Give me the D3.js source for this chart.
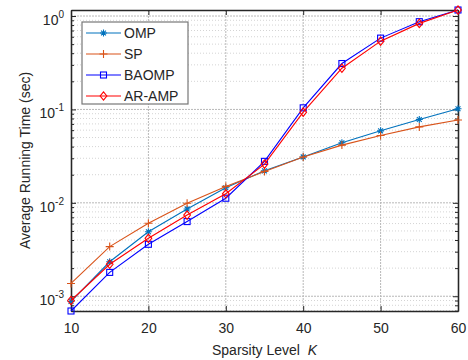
<!DOCTYPE html>
<html>
<head>
<meta charset="utf-8">
<script src="https://cdn.jsdelivr.net/npm/d3@7"></script>
<style>
  body { margin: 0; background: #fff; }
  svg { display: block; font-family: "Liberation Sans", Arial, sans-serif; }
</style>
</head>
<body>
<svg id="drawing_region"></svg>
<script>
// values
const sparsity = [10, 15, 20, 25, 30, 35, 40, 45, 50, 55, 60];
const omp   = [8.8e-4, 2.34e-3, 4.9e-3, 8.6e-3, 1.45e-2, 2.2e-2, 3.1e-2, 4.4e-2, 5.9e-2, 7.8e-2, 0.1016];
const sp    = [1.37e-3, 3.4e-3, 6.05e-3, 9.9e-3, 1.5e-2, 2.17e-2, 3.1e-2, 4.15e-2, 5.25e-2, 6.5e-2, 7.7e-2];
const baomp = [6.95e-4, 1.8e-3, 3.6e-3, 6.3e-3, 1.12e-2, 2.78e-2, 0.104, 0.31, 0.58, 0.87, 1.16];
const aramp = [9.0e-4, 2.2e-3, 4.17e-3, 7.4e-3, 1.25e-2, 2.6e-2, 0.0935, 0.276, 0.538, 0.834, 1.16];
const seriesNames = ['OMP', 'SP', 'BAOMP', 'AR-AMP'];
const xTicks = [10, 20, 30, 40, 50, 60];
const yTickExps = [-3, -2, -1, 0];

const series = [
  {name: seriesNames[0], values: omp,   color: '#0072BD', marker: 'asterisk'},
  {name: seriesNames[1], values: sp,    color: '#D95319', marker: 'plus'},
  {name: seriesNames[2], values: baomp, color: '#0000FF', marker: 'square'},
  {name: seriesNames[3], values: aramp, color: '#FF0000', marker: 'diamond'}
];

const width = 468, height = 360;
const margin = {top: 10, right: 10, bottom: 49, left: 71};
const innerW = width - margin.left - margin.right;
const innerH = height - margin.top - margin.bottom;

const svg = d3.select('#drawing_region').attr('width', width).attr('height', height);
const chart = svg.append('g').attr('transform', `translate(${margin.left},${margin.top})`);

const allVals = series.flatMap(s => s.values);
const xscale = d3.scaleLinear().domain(d3.extent(sparsity)).range([0, innerW]);
const yscale = d3.scaleLog().domain([d3.min(allVals), d3.max(allVals)]).range([innerH, 0]);

// minor and major grid
const minorVals = [];
for (let e = -4; e <= 0; e++) for (let m = 2; m <= 9; m++) {
  const v = m * Math.pow(10, e);
  if (v >= yscale.domain()[0] && v <= yscale.domain()[1]) minorVals.push(v);
}
const grid = chart.append('g');
grid.selectAll('.ymin').data(minorVals).enter().append('line')
  .attr('x1', 0).attr('x2', innerW)
  .attr('y1', d => yscale(d)).attr('y2', d => yscale(d))
  .attr('stroke', '#d4d4d4').attr('stroke-width', 1).attr('stroke-dasharray', '1,2');
grid.selectAll('.ymaj').data(yTickExps.map(e => Math.pow(10, e))).enter().append('line')
  .attr('x1', 0).attr('x2', innerW)
  .attr('y1', d => yscale(d)).attr('y2', d => yscale(d))
  .attr('stroke', '#b8b8b8').attr('stroke-width', 1).attr('stroke-dasharray', '2,1');
grid.selectAll('.xmaj').data(xTicks.slice(1, -1)).enter().append('line')
  .attr('y1', 0).attr('y2', innerH)
  .attr('x1', d => xscale(d)).attr('x2', d => xscale(d))
  .attr('stroke', '#b8b8b8').attr('stroke-width', 1).attr('stroke-dasharray', '2,1');

// axes (box with inward ticks)
const axisColor = '#262626';
const xaxis = d3.axisBottom(xscale).tickValues(xTicks).tickSize(-5).tickSizeOuter(0).tickPadding(12);
const xg = chart.append('g').attr('transform', `translate(0,${innerH})`).call(xaxis);
xg.selectAll('text').attr('font-size', 14).attr('fill', axisColor).attr('font-family', '"Liberation Sans", Arial, sans-serif');
const xtop = d3.axisTop(xscale).tickValues(xTicks).tickSize(-5).tickSizeOuter(0).tickFormat('');
chart.append('g').call(xtop);

const yaxis = d3.axisLeft(yscale).tickValues(yTickExps.map(e => Math.pow(10, e))).tickSize(-5).tickSizeOuter(0).tickFormat('');
chart.append('g').call(yaxis);
const yright = d3.axisRight(yscale).tickValues(yTickExps.map(e => Math.pow(10, e))).tickSize(-5).tickSizeOuter(0).tickFormat('');
chart.append('g').attr('transform', `translate(${innerW},0)`).call(yright);
// minor ticks
chart.append('g').call(d3.axisLeft(yscale).tickValues(minorVals).tickSize(-3).tickSizeOuter(0).tickFormat(''));
chart.append('g').attr('transform', `translate(${innerW},0)`)
  .call(d3.axisRight(yscale).tickValues(minorVals).tickSize(-3).tickSizeOuter(0).tickFormat(''));
chart.selectAll('.domain, .tick line').attr('stroke', axisColor);
chart.selectAll('.domain').attr('stroke-width', 1.3);

// y tick labels 10^n
const ylab = chart.append('g');
yTickExps.forEach(e => {
  const t = ylab.append('text')
    .attr('x', -7).attr('y', yscale(Math.pow(10, e)) + 9)
    .attr('text-anchor', 'end').attr('font-size', 14).attr('fill', axisColor);
  t.append('tspan').text('10');
  t.append('tspan').attr('dy', -7).attr('font-size', 10).text(e);
});

// axis titles
const xt = svg.append('text')
  .attr('x', margin.left + innerW / 2).attr('y', 355)
  .attr('text-anchor', 'middle').attr('font-size', 14).attr('fill', axisColor);
xt.append('tspan').text('Sparsity Level\u00a0\u00a0');
xt.append('tspan').attr('font-style', 'italic').text('K');
svg.append('text')
  .attr('transform', `translate(30,${margin.top + innerH / 2}) rotate(-90)`)
  .attr('text-anchor', 'middle').attr('font-size', 14).attr('fill', axisColor)
  .text('Average Running Time (sec)');

// markers
function drawMarker(g, type, color, x, y) {
  if (type === 'asterisk') {
    const r = 3.5;
    g.append('path').attr('d', `M${x - r},${y}H${x + r}M${x},${y - r}V${y + r}M${x - r * .7},${y - r * .7}L${x + r * .7},${y + r * .7}M${x - r * .7},${y + r * .7}L${x + r * .7},${y - r * .7}`)
      .attr('stroke', color).attr('stroke-width', 1.1).attr('fill', 'none');
  } else if (type === 'plus') {
    const r = 4;
    g.append('path').attr('d', `M${x - r},${y}H${x + r}M${x},${y - r}V${y + r}`)
      .attr('stroke', color).attr('stroke-width', 1.1).attr('fill', 'none');
  } else if (type === 'square') {
    g.append('rect').attr('x', x - 3).attr('y', y - 3).attr('width', 6).attr('height', 6)
      .attr('stroke', color).attr('stroke-width', 1.1).attr('fill', 'none');
  } else if (type === 'diamond') {
    const r = 4.2;
    g.append('path').attr('d', `M${x},${y - r}L${x + r * .8},${y}L${x},${y + r}L${x - r * .8},${y}Z`)
      .attr('stroke', color).attr('stroke-width', 1.1).attr('fill', 'none');
  }
}

const line = d3.line().x(d => xscale(d[0])).y(d => yscale(d[1]));
series.forEach(s => {
  const pts = sparsity.map((k, i) => [k, s.values[i]]);
  chart.append('path').datum(pts).attr('d', line)
    .attr('fill', 'none').attr('stroke', s.color).attr('stroke-width', 1.1);
  const mg = chart.append('g');
  pts.forEach(p => drawMarker(mg, s.marker, s.color, xscale(p[0]), yscale(p[1])));
});

// legend
const legend = svg.append('g').attr('transform', 'translate(82,22)');
legend.append('rect').attr('width', 106).attr('height', 82)
  .attr('fill', '#fff').attr('stroke', '#777').attr('stroke-width', 1.2);
series.forEach((s, i) => {
  const y = 11 + i * 21;
  legend.append('line').attr('x1', 4).attr('x2', 39).attr('y1', y).attr('y2', y)
    .attr('stroke', s.color).attr('stroke-width', 1.1);
  drawMarker(legend, s.marker, s.color, 21.5, y);
  legend.append('text').attr('x', 42).attr('y', y + 5)
    .attr('font-size', 14).attr('fill', axisColor).text(s.name);
});
</script>
</body>
</html>
